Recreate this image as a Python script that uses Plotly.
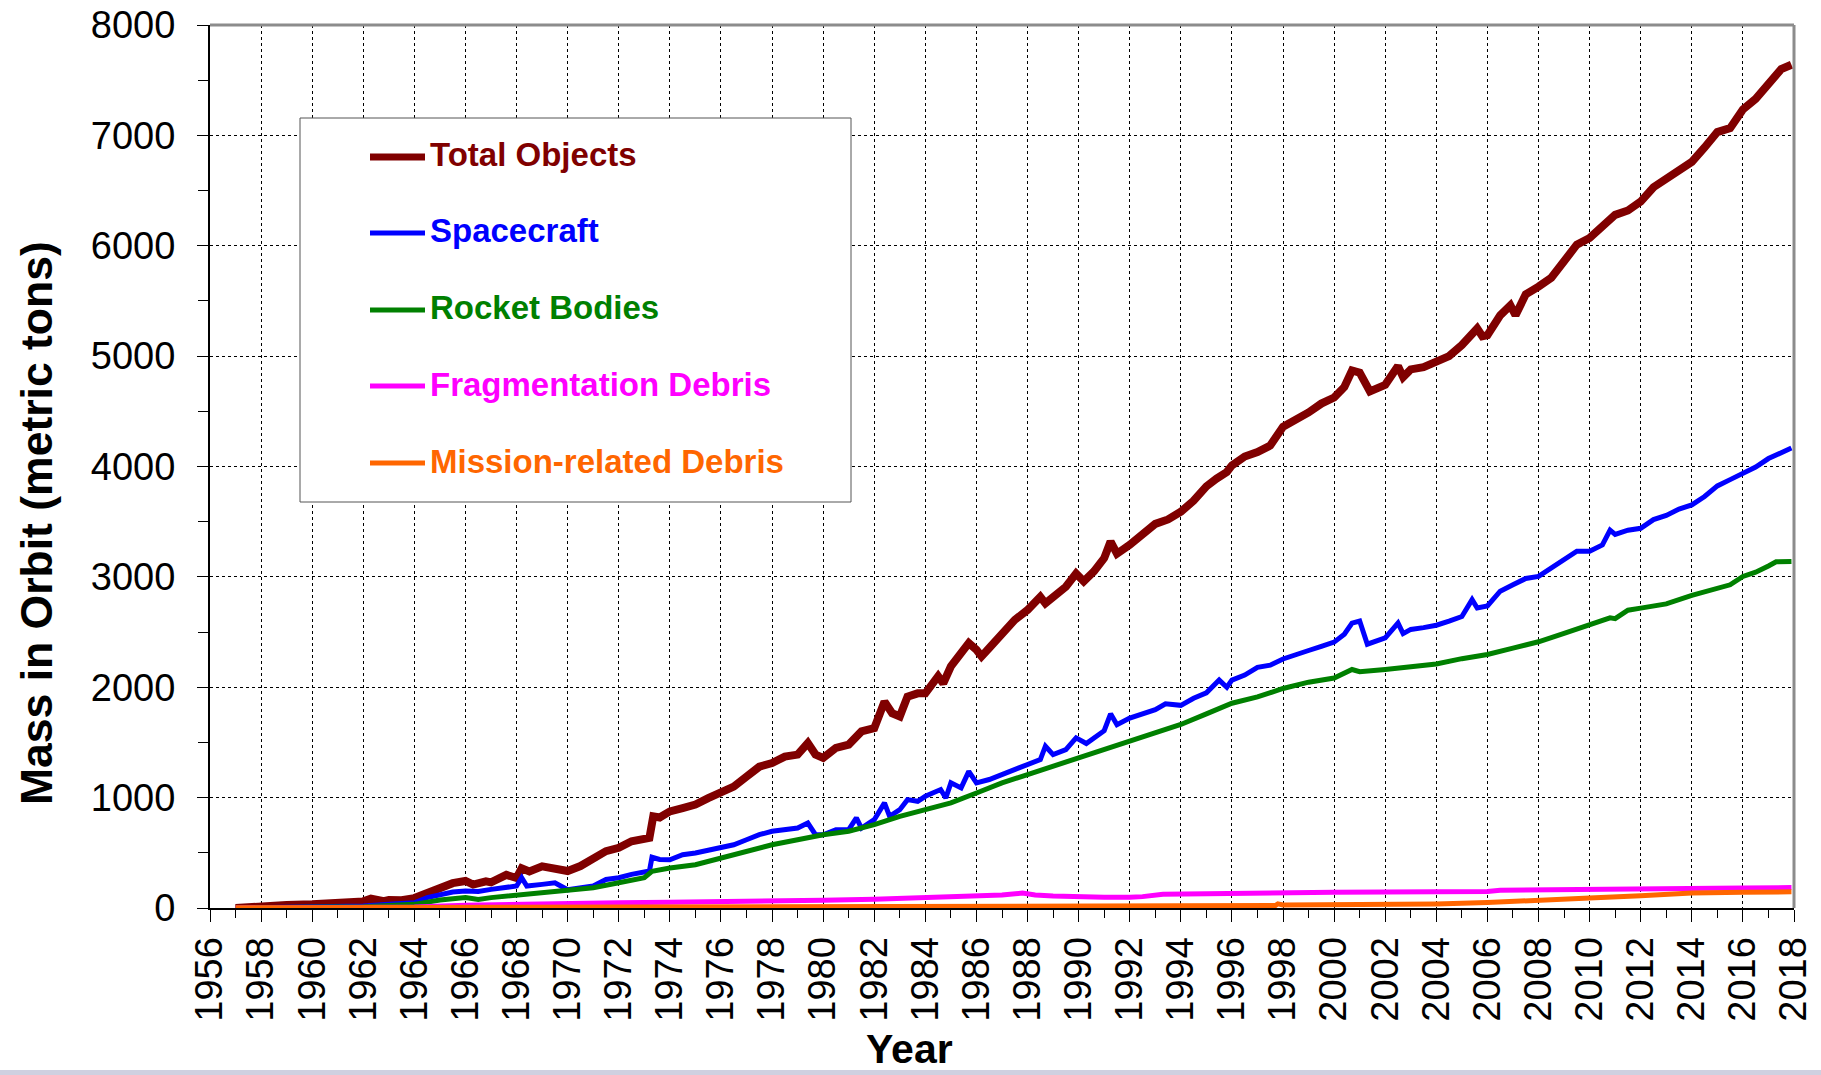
import plotly.graph_objects as go

# ---------------- data ----------------
total_years = [1957.0, 1958, 1959, 1960, 1961, 1962, 1962.3, 1962.8, 1963, 1963.5, 1964, 1964.5,
               1965, 1965.5, 1966, 1966.3, 1966.8, 1967, 1967.6, 1968, 1968.2, 1968.5, 1969,
               1969.5, 1970, 1970.5, 1971, 1971.5, 1972, 1972.5, 1973.2, 1973.35, 1973.6, 1974,
               1974.5, 1975, 1975.5, 1976, 1976.5, 1977, 1977.5, 1978, 1978.5, 1979, 1979.4,
               1979.7, 1980, 1980.5, 1981, 1981.5, 1982, 1982.4, 1982.7, 1983, 1983.3, 1983.7,
               1984, 1984.5, 1984.7, 1985, 1985.4, 1985.7, 1986, 1986.2, 1986.5, 1987, 1987.5,
               1988, 1988.5, 1988.7, 1989, 1989.5, 1989.9, 1990.2, 1990.6, 1991, 1991.25, 1991.5,
               1992, 1992.5, 1993, 1993.5, 1994, 1994.5, 1995, 1995.4, 1995.8, 1996, 1996.5,
               1997, 1997.5, 1998, 1998.5, 1999, 1999.5, 2000, 2000.4, 2000.7, 2001, 2001.4,
               2002, 2002.5, 2002.7, 2003, 2003.5, 2004, 2004.5, 2005, 2005.6, 2005.8, 2006,
               2006.5, 2006.9, 2007.1, 2007.5, 2008, 2008.5, 2009, 2009.5, 2010, 2010.3, 2011,
               2011.5, 2012, 2012.5, 2013, 2013.5, 2014, 2014.5, 2015, 2015.5, 2016, 2016.5,
               2017, 2017.5, 2017.9]
total_mass = [0, 20, 28, 33, 45, 60, 84, 62, 72, 70, 90, 135,
              170, 225, 245, 212, 242, 232, 300, 272, 360, 332, 378,
              362, 335, 380, 440, 515, 545, 605, 635, 830, 820, 875,
              905, 937, 995, 1042, 1100, 1190, 1280, 1314, 1372, 1390, 1495,
              1390, 1360, 1450, 1480, 1600, 1630, 1870, 1765, 1735, 1915, 1945,
              1945, 2100, 2035, 2190, 2310, 2400, 2340, 2280, 2355, 2490, 2610,
              2700, 2820, 2760, 2820, 2910, 3030, 2960, 3050, 3170, 3320, 3210,
              3290, 3380, 3480, 3520, 3590, 3690, 3820, 3890, 3950, 4010, 4090,
              4130, 4190, 4360, 4420, 4490, 4570, 4625, 4720, 4870, 4850, 4680,
              4740, 4910, 4810, 4880, 4900, 4950, 5000, 5100, 5250, 5180, 5190,
              5370, 5460, 5370, 5560, 5630, 5710, 5860, 6010, 6070, 6130, 6280,
              6320, 6400, 6530, 6610, 6680, 6760, 6890, 7030, 7065, 7235, 7330,
              7465, 7600, 7640]

spacecraft_years = [1957, 1960, 1962, 1963, 1964, 1964.5, 1965, 1965.5, 1966, 1966.5, 1967,
                    1967.6, 1968, 1968.2, 1968.4, 1969, 1969.5, 1970, 1970.5, 1971, 1971.5,
                    1972, 1972.5, 1973.2, 1973.3, 1973.6, 1974, 1974.5, 1975, 1975.5, 1976,
                    1976.5, 1977, 1977.5, 1978, 1978.5, 1979, 1979.4, 1979.7, 1980, 1980.5,
                    1981, 1981.3, 1981.5, 1982, 1982.4, 1982.6, 1983, 1983.3, 1983.7, 1984,
                    1984.6, 1984.8, 1985, 1985.4, 1985.7, 1986, 1986.5, 1987, 1987.5, 1988,
                    1988.5, 1988.7, 1989, 1989.5, 1989.9, 1990.3, 1991, 1991.25, 1991.5, 1992,
                    1992.5, 1993, 1993.4, 1994, 1994.5, 1995, 1995.5, 1995.8, 1996, 1996.5,
                    1997, 1997.5, 1998, 1998.5, 1999, 1999.5, 2000, 2000.4, 2000.7, 2001,
                    2001.3, 2002, 2002.5, 2002.7, 2003, 2003.5, 2004, 2004.5, 2005, 2005.4,
                    2005.6, 2006, 2006.5, 2007, 2007.5, 2008, 2008.5, 2009, 2009.5, 2010,
                    2010.5, 2010.8, 2011, 2011.5, 2012, 2012.5, 2013, 2013.5, 2014, 2014.5,
                    2015, 2015.5, 2016, 2016.5, 2017, 2017.5, 2017.9]
spacecraft_mass = [0, 10, 18, 33, 48, 94, 124, 145, 154, 150, 169,
                   184, 199, 274, 199, 214, 229, 165, 185, 200, 259,
                   274, 305, 335, 460, 440, 437, 483, 498, 520, 543,
                   573, 618, 664, 695, 710, 724, 770, 664, 664, 710,
                   710, 816, 724, 800, 952, 831, 891, 982, 967, 1012,
                   1073, 997, 1134, 1088, 1238, 1134, 1164, 1209, 1255, 1299,
                   1345, 1466, 1390, 1435, 1541, 1490, 1606, 1759, 1660, 1721,
                   1760, 1797, 1850, 1836, 1900, 1950, 2065, 2000, 2065, 2110,
                   2180, 2200, 2256, 2300, 2333, 2370, 2409, 2480, 2581, 2600,
                   2390, 2447, 2581, 2486, 2524, 2540, 2562, 2600, 2641, 2794,
                   2718, 2737, 2870, 2928, 2985, 3004, 3080, 3156, 3233, 3233,
                   3290, 3423, 3385, 3423, 3440, 3519, 3557, 3614, 3652, 3728,
                   3824, 3881, 3938, 3995, 4072, 4129, 4167]

rocket_years = [1957, 1960, 1962, 1964, 1965, 1966, 1966.5, 1967, 1968, 1969, 1970, 1971,
                1972, 1973, 1973.3, 1974, 1975, 1976, 1977, 1978, 1979, 1980, 1981, 1982,
                1983, 1984, 1985, 1986, 1987, 1988, 1989, 1990, 1991, 1992, 1993, 1994,
                1995, 1996, 1997, 1998, 1999, 2000, 2000.7, 2001, 2002, 2003, 2004, 2005,
                2006, 2007, 2008, 2009, 2010, 2010.8, 2011, 2011.5, 2012, 2013, 2014, 2015,
                2015.5, 2016, 2016.5, 2017, 2017.3, 2017.9]
rocket_mass = [0, 5, 12, 33, 72, 94, 78, 94, 115, 139, 154, 184,
               229, 274, 332, 362, 392, 452, 513, 573, 618, 664, 695, 755,
               831, 891, 952, 1042, 1134, 1209, 1284, 1357, 1434, 1510, 1587, 1663,
               1759, 1855, 1912, 1989, 2046, 2084, 2161, 2141, 2161, 2180, 2210, 2259,
               2297, 2355, 2412, 2488, 2564, 2629, 2622, 2698, 2717, 2755, 2832, 2889,
               2928, 3004, 3042, 3099, 3137, 3140]

frag_years = [1957, 1961, 1962, 1964, 1966, 1968, 1970, 1972, 1974, 1976, 1978, 1980,
              1982, 1984, 1986, 1987, 1987.8, 1988.3, 1989, 1990, 1991, 1992, 1992.5,
              1993.3, 1994, 1996, 1998, 2000, 2002, 2004, 2006, 2006.5, 2008, 2010,
              2012, 2014, 2016, 2017.9]
frag_mass = [0, 2, 5, 10, 25, 35, 42, 47, 52, 55, 62, 70,
             80, 92, 108, 118, 135, 118, 108, 100, 97, 98, 103,
             125, 128, 134, 140, 143, 145, 146, 150, 160, 165, 172,
             177, 179, 182, 185]

mission_years = [1957, 1960, 1965, 1970, 1975, 1980, 1985, 1986, 1987, 1990, 1994, 1997.7,
                 1997.8, 1998, 2000, 2002, 2004, 2006, 2008, 2010, 2012, 2014, 2016, 2017.9]
mission_mass = [2, 4, 8, 12, 16, 18, 22, 26, 24, 18, 20, 22,
                38, 28, 30, 33, 37, 50, 65, 90, 112, 136, 142, 147]

series_names = ["Total Objects", "Spacecraft", "Rocket Bodies",
                "Fragmentation Debris", "Mission-related Debris"]
series_colors = ["#800000", "#0000FF", "#008000", "#FF00FF", "#FF6600"]
series_widths = [8, 5, 5, 5, 5]
series_x = [total_years, spacecraft_years, rocket_years, frag_years, mission_years]
series_y = [total_mass, spacecraft_mass, rocket_mass, frag_mass, mission_mass]

x_tick_values = list(range(1956, 2019, 2))
y_tick_values = list(range(0, 8001, 1000))

# ---------------- geometry helpers (pixel -> paper) ----------------
W, H = 1821, 1075
ML, MR, MT, MB = 210, 27, 25, 167
PW = W - ML - MR
PH = H - MT - MB


def px(xp):
    return (xp - ML) / PW


def py(yp):
    return (H - MB - yp) / PH


FONT = "Arial, 'Liberation Sans', sans-serif"

fig = go.Figure()
for name, color, width, xs, ys in zip(series_names, series_colors, series_widths,
                                      series_x, series_y):
    fig.add_trace(go.Scatter(x=xs, y=ys, mode="lines", name=name,
                             line=dict(color=color, width=width),
                             showlegend=False))

fig.update_layout(
    width=W, height=H, autosize=False,
    margin=dict(l=ML, r=MR, t=MT, b=MB, pad=0, autoexpand=False),
    plot_bgcolor="white", paper_bgcolor="white",
    font=dict(family=FONT, color="black"),
)

fig.update_xaxes(
    range=[1956, 2018], tickmode="array", tickvals=x_tick_values,
    ticks="outside", ticklen=12, tickwidth=1, tickcolor="black",
    minor=dict(dtick=1, tick0=1956, ticks="outside", ticklen=8, tickcolor="black",
               showgrid=False),
    showgrid=True, gridcolor="black", griddash="dot", gridwidth=1,
    showline=True, linecolor="black", linewidth=2,
    tickangle=-90, tickfont=dict(size=38, family=FONT, color="black"),
    zeroline=False, automargin=False,
)
fig.update_yaxes(
    range=[0, 8000], tickmode="array", tickvals=y_tick_values,
    ticks="outside", ticklen=11, tickwidth=1, tickcolor="black",
    minor=dict(dtick=500, tick0=0, ticks="outside", ticklen=10, tickcolor="black",
               showgrid=False),
    showgrid=True, gridcolor="black", griddash="dot", gridwidth=1,
    showline=True, linecolor="black", linewidth=2,
    tickfont=dict(size=38, family=FONT, color="black"),
    ticklabelstandoff=14,
    zeroline=False, automargin=False,
)

shapes = []
# grey top / right frame
shapes.append(dict(type="line", xref="paper", yref="paper", x0=0, x1=1, y0=1, y1=1,
                   line=dict(color="#8c8c8c", width=3)))
shapes.append(dict(type="line", xref="paper", yref="paper", x0=1, x1=1, y0=0, y1=1,
                   line=dict(color="#8c8c8c", width=3)))
# legend box
shapes.append(dict(type="rect", xref="paper", yref="paper",
                   x0=px(300), x1=px(851), y0=py(502), y1=py(118),
                   fillcolor="white", line=dict(color="#555555", width=1), layer="above"))
# bottom strip of the window
shapes.append(dict(type="rect", xref="paper", yref="paper",
                   x0=px(0), x1=px(W), y0=py(H), y1=py(1070),
                   fillcolor="#cfd0e0", line=dict(width=0)))

annotations = []
legend_rows = [157, 233, 310, 386, 463]
for name, color, width, yrow in zip(series_names, series_colors, series_widths, legend_rows):
    shapes.append(dict(type="line", xref="paper", yref="paper",
                       x0=px(370), x1=px(425), y0=py(yrow), y1=py(yrow),
                       line=dict(color=color, width=width - 1 if width > 5 else width),
                       layer="above"))
    annotations.append(dict(xref="paper", yref="paper", x=px(428), y=py(yrow - 2),
                            xanchor="left", yanchor="middle", showarrow=False,
                            text="<b>%s</b>" % name,
                            font=dict(size=33, family=FONT, color=color)))

annotations.append(dict(xref="paper", yref="paper", x=px(36), y=py(523),
                        xanchor="center", yanchor="middle", showarrow=False, textangle=-90,
                        text="<b>Mass in Orbit (metric tons)</b>",
                        font=dict(size=44.5, family=FONT, color="black")))
annotations.append(dict(xref="paper", yref="paper", x=px(909), y=py(1074),
                        xanchor="center", yanchor="bottom", showarrow=False,
                        text="<b>Year</b>",
                        font=dict(size=41, family=FONT, color="black")))

fig.update_layout(shapes=shapes, annotations=annotations)

fig.write_html("out.html",
               config={"displayModeBar": False},
               post_script="document.body.style.margin='0';document.body.style.overflow='hidden';")
